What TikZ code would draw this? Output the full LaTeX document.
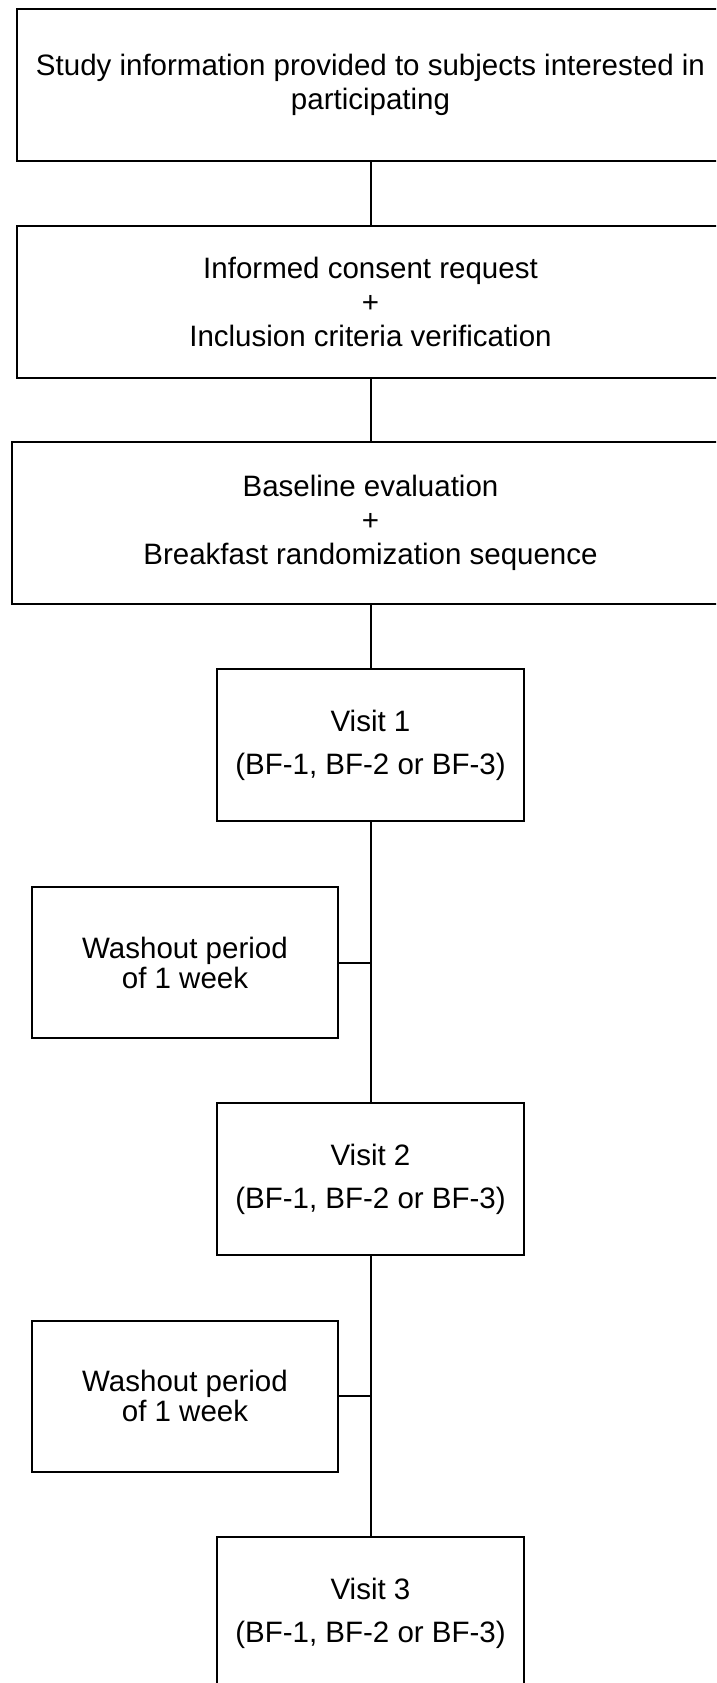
\documentclass[tikz,border=0pt]{standalone}
\usepackage{fontspec}
\setmainfont{Liberation Sans}
\usepackage{tikz}
\usetikzlibrary{positioning,calc}
\tikzset{
  box/.style={rectangle, draw=black, fill=white, line width=2pt, align=center,
              inner sep=0pt, outer sep=0pt, font=\fontsize{29.5}{34}\selectfont},
  widebox/.style={box, minimum width=707pt, minimum height=152pt},
  visitbox/.style={box, minimum width=307pt, minimum height=152pt,
                   font=\fontsize{29.5}{43}\selectfont},
  washbox/.style={box, minimum width=306pt, minimum height=151pt,
                  font=\fontsize{29.5}{30}\selectfont},
  link/.style={draw=black, line width=2pt},
}

\begin{document}
\begin{tikzpicture}[x=1pt, y=-1pt]
\clip (0,0) rectangle (716,1683);
\fill[white] (0,0) rectangle (716,1683);

\node[widebox] (info) at (370.5,85)
 {Study information provided to subjects interested in\\participating};
\node[widebox] (consent) at (370.5,301.5)
 {Informed consent request\\+\\Inclusion criteria verification};
\node[widebox, minimum width=717pt, minimum height=162pt] (base) at (370.5,523)
 {Baseline evaluation\\+\\Breakfast randomization sequence};

\node[visitbox] (visit1) at (370.5,745) {Visit 1\\(BF-1, BF-2 or BF-3)};
\node[washbox] (wash1) at (185,962.5) {Washout period\\of 1 week};
\node[visitbox] (visit2) at (370.5,1179) {Visit 2\\(BF-1, BF-2 or BF-3)};
\node[washbox] (wash2) at (185,1396) {Washout period\\of 1 week};
\node[visitbox] (visit3) at (370.5,1613) {Visit 3\\(BF-1, BF-2 or BF-3)};

% vertical chain
\draw[link] (info) -- (consent);
\draw[link] (consent) -- (base);
\draw[link] (base) -- (visit1);
\draw[link] (visit1) -- (visit2);
\draw[link] (visit2) -- (visit3);

% washout side branches
\draw[link] (wash1.east) -- (wash1.east -| visit1.south);
\draw[link] (wash2.east) -- (wash2.east -| visit2.south);
\end{tikzpicture}
\end{document}
